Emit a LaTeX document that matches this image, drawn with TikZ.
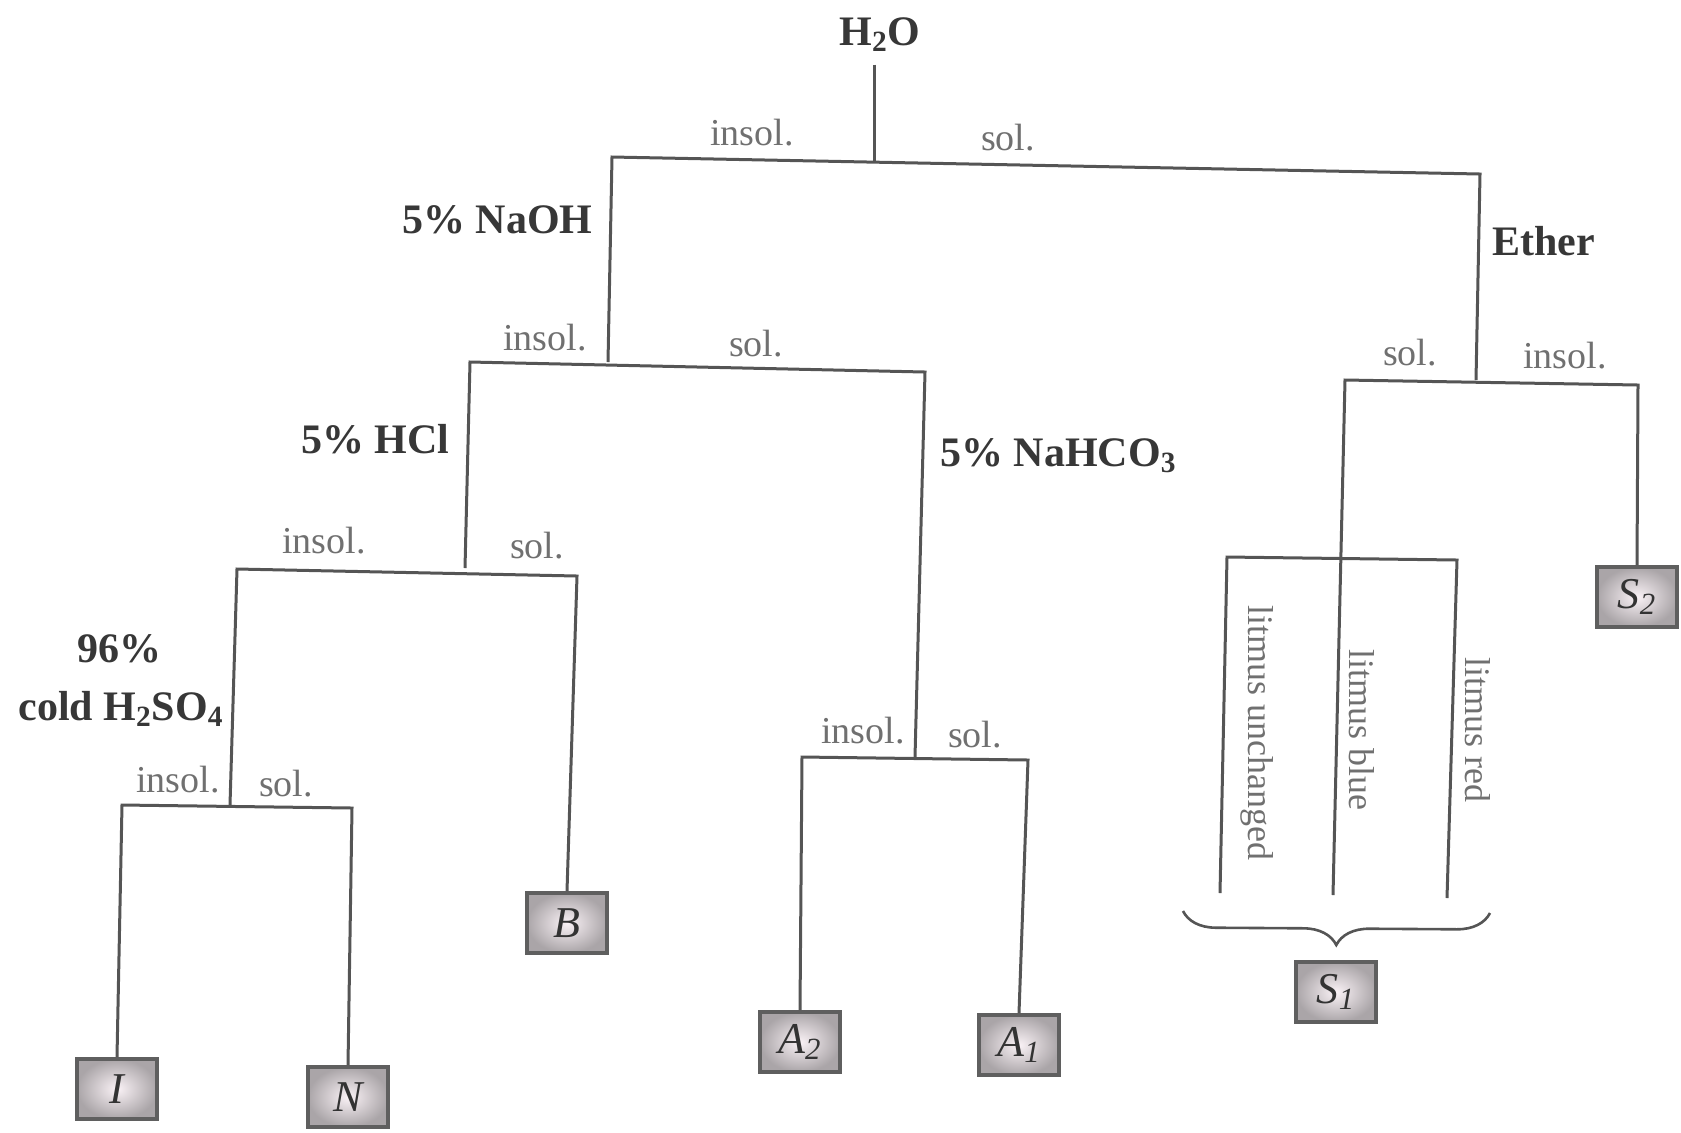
\documentclass[tikz,border=0pt]{standalone}
\usepackage{fontspec}
\setmainfont{Liberation Serif}
\usetikzlibrary{decorations.pathreplacing}
\definecolor{linec}{RGB}{85,85,85}
\definecolor{labc}{RGB}{112,112,112}
\definecolor{boldc}{RGB}{55,55,55}
\definecolor{boxin}{RGB}{250,242,246}
\definecolor{boxout}{RGB}{170,165,168}
\definecolor{boxedge}{RGB}{95,95,95}
\begin{document}
\begin{tikzpicture}[x=0.5pt,y=-0.5pt,
  wire/.style={draw=linec, line width=1.5pt, line join=miter},
  lab/.style={text=labc, font=\fontsize{19}{22}\selectfont, inner sep=0pt},
  reag/.style={text=boldc, font=\fontsize{21}{24}\selectfont\bfseries, inner sep=0pt},
  litm/.style={text=labc, font=\fontsize{18}{21}\selectfont, inner sep=0pt, rotate=-90},
  res/.style={draw=boxedge, line width=2pt, inner color=boxin, outer color=boxout,
    minimum width=40pt, minimum height=30pt, inner sep=0pt,
    font=\fontsize{22}{26}\selectfont\itshape, text=black!80}]
\useasboundingbox (0,0) rectangle (1681,1132);

% texts
\node[reag, anchor=base] (h2o) at (880,45) {H\textsubscript{2}O};
\node[lab, anchor=base] (t1i) at (752,145) {insol.};
\node[lab, anchor=base] (t1s) at (1008,150) {sol.};
\node[reag, anchor=base east] (naoh) at (593,233) {5\% NaOH};
\node[reag, anchor=base west] (ether) at (1492,255) {Ether};
\node[lab, anchor=base] (t2i) at (545,350) {insol.};
\node[lab, anchor=base] (t2s) at (756,356) {sol.};
\node[reag, anchor=base east] (hcl) at (450,453) {5\% HCl};
\node[reag, anchor=base west] (nahco) at (940,466) {5\% NaHCO\textsubscript{3}};
\node[lab, anchor=base] (t3i) at (324,553) {insol.};
\node[lab, anchor=base] (t3s) at (537,558) {sol.};
\node[reag, anchor=base] (pct) at (119,662) {96\%};
\node[reag, anchor=base] (h2so) at (121,720) {cold H\textsubscript{2}SO\textsubscript{4}};
\node[lab, anchor=base] (t4i) at (178,792) {insol.};
\node[lab, anchor=base] (t4s) at (286,796) {sol.};
\node[lab, anchor=base] (t5i) at (863,743) {insol.};
\node[lab, anchor=base] (t5s) at (975,747) {sol.};
\node[lab, anchor=base] (t6s) at (1410,365) {sol.};
\node[lab, anchor=base] (t6i) at (1565,368) {insol.};
\node[litm] (lu) at (1257,733) {litmus unchanged};
\node[litm] (lbl) at (1362,730) {litmus blue};
\node[litm] (lr) at (1478,730) {litmus red};

% result boxes
\node[res] (I) at (117,1089) {I};
\node[res] (N) at (348,1097) {N};
\node[res] (B) at (567,923) {B};
\node[res] (A2) at (800,1042) {A\textsubscript{2}};
\node[res] (A1) at (1019,1045) {A\textsubscript{1}};
\node[res] (S1) at (1336,992) {S\textsubscript{1}};
\node[res] (S2) at (1637,597) {S\textsubscript{2}};

% junction points
\coordinate (r0) at (874,162);
\coordinate (a0l) at (612,157);
\coordinate (a0r) at (1480,174);
\coordinate (j1) at (608,362);
\coordinate (a1l) at (470,362);
\coordinate (a1r) at (925,372);
\coordinate (j2) at (465,568);
\coordinate (a2l) at (237,569);
\coordinate (a2r) at (577,576);
\coordinate (j3) at (230,805);
\coordinate (a3l) at (122,805);
\coordinate (a3r) at (352,808);
\coordinate (j4) at (915,757);
\coordinate (a4l) at (802,757);
\coordinate (a4r) at (1028,760);
\coordinate (j5) at (1476,380);
\coordinate (a5l) at (1345,380);
\coordinate (a5r) at (1638,385);
\coordinate (lb1) at (1220,893);
\coordinate (lt1) at (1227,557);
\coordinate (lt3) at (1457,560);
\coordinate (lb3) at (1447,898);
\coordinate (lb2) at (1333,895);
\coordinate (brl) at (1183,911);
\coordinate (brr) at (1490,913);

% connectors
\draw[wire] (h2o.south -| r0) ++(0,13) -- (r0);
\draw[wire] (j1) -- (a0l) -- (a0r) -- (j5);
\draw[wire] (j2) -- (a1l) -- (a1r) -- (j4);
\draw[wire] (j3) -- (a2l) -- (a2r) -- (B.north);
\draw[wire] (I.north) -- (a3l) -- (a3r) -- (N.north);
\draw[wire] (A2.north) -- (a4l) -- (a4r) -- (A1.north);
\draw[wire] (lb2) -- (a5l) -- (a5r) -- (S2.north);
\draw[wire] (lb1) -- (lt1) -- (lt3) -- (lb3);
\draw[draw=linec, line width=1.3pt, decorate, decoration={brace, mirror, amplitude=16.5pt}] (brl) -- (brr);
\end{tikzpicture}
\end{document}
